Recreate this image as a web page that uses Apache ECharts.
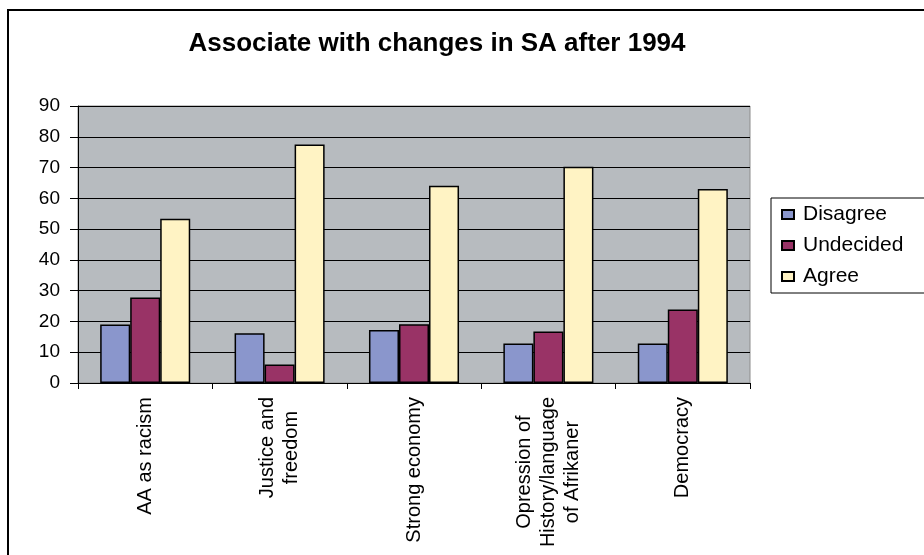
<!DOCTYPE html>
<html>
<head>
<meta charset="utf-8">
<script src="https://cdn.jsdelivr.net/npm/echarts@6/dist/echarts.min.js"></script>
<style>html,body{margin:0;padding:0;background:#fff}#c{width:924px;height:555px}</style>
</head>
<body>
<div id="c"></div>
<script>
var categories = ["AA as racism", "Justice and\nfreedom", "Strong economy", "Opression of\nHistory/language\nof Afrikaner", "Democracy"];
var seriesNames = ["Disagree", "Undecided", "Agree"];
var disagree = [19, 16.2, 17.2, 12.8, 12.8];
var undecided = [27.8, 6, 19.1, 16.7, 23.9];
var agree = [53.4, 77.5, 64.1, 70.3, 63];
var yTicks = [0, 10, 20, 30, 40, 50, 60, 70, 80, 90];

var colors = ["#8A96CC", "#993366", "#FFF3C4"];
var FONT = "Liberation Sans, Arial, sans-serif";
var chart = echarts.init(document.getElementById('c'), null, {renderer: 'canvas'});
function barSeries(name, data, i) {
  return {
    name: name, type: 'bar', data: data,
    barGap: '0%', barCategoryGap: '33%',
    itemStyle: {color: colors[i], borderColor: '#000', borderWidth: 1.5},
    emphasis: {disabled: true}
  };
}
chart.setOption({
  animation: false,
  backgroundColor: '#fff',
  title: {
    text: 'Associate with changes in SA after 1994',
    left: 432, top: 26, textAlign: 'center',
    textStyle: {fontFamily: FONT, fontWeight: 'bold', fontSize: 26, color: '#000'}
  },
  graphic: [{
    type: 'rect', shape: {x: 8, y: 10, width: 1000, height: 1000},
    style: {fill: 'none', stroke: '#000', lineWidth: 2}, silent: true
  }],
  legend: {
    orient: 'vertical', left: 771, top: 198,
    data: seriesNames,
    icon: 'rect', itemWidth: 12, itemHeight: 9, itemGap: 10,
    borderColor: '#000', borderWidth: 1, padding: [6, 40, 6, 10],
    textStyle: {fontFamily: FONT, fontSize: 21, color: '#000', padding: [0, 0, 0, 4]}
  },
  grid: {
    left: 78, right: 174, top: 106, bottom: 172,
    show: true, backgroundColor: '#B7BBBF', borderColor: '#8C8C8C', borderWidth: 1
  },
  xAxis: {
    type: 'category', data: categories,
    axisLine: {lineStyle: {color: '#000', width: 1}},
    axisTick: {show: true, length: 6, lineStyle: {color: '#000'}},
    axisLabel: {
      rotate: 90, margin: 14, interval: 0,
      fontFamily: FONT, fontSize: 20, color: '#000', lineHeight: 24,
      formatter: function (v) { return v.split('\n').map(function (s) { return '{c|' + s + '}'; }).join('\n'); },
      rich: {c: {align: 'center', fontFamily: FONT, fontSize: 20, color: '#000', lineHeight: 24}}
    }
  },
  yAxis: {
    type: 'value', min: yTicks[0], max: yTicks[yTicks.length - 1], interval: 10,
    axisLine: {show: true, lineStyle: {color: '#000', width: 1}},
    axisTick: {show: true, length: 8, lineStyle: {color: '#000'}},
    axisLabel: {fontFamily: FONT, fontSize: 19, color: '#000', margin: 18},
    splitLine: {show: true, lineStyle: {color: '#000', width: 1}}
  },
  series: [barSeries(seriesNames[0], disagree, 0), barSeries(seriesNames[1], undecided, 1), barSeries(seriesNames[2], agree, 2)]
});
</script>
</body>
</html>
